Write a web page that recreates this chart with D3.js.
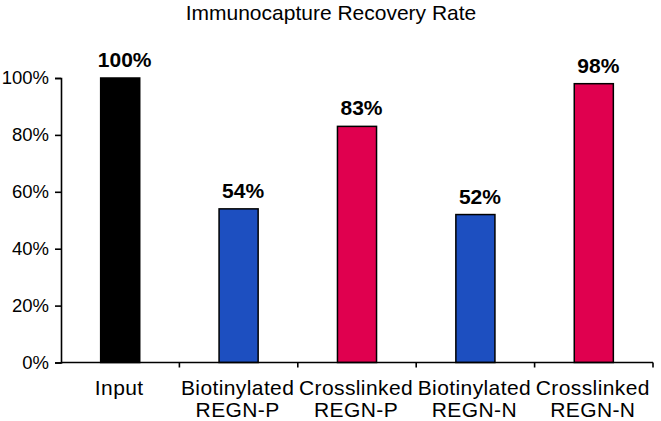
<!DOCTYPE html>
<html>
<head>
<meta charset="utf-8">
<script src="https://cdn.jsdelivr.net/npm/d3@7"></script>
<style>
  body { margin: 0; background: #fff; }
  svg { font-family: "Liberation Sans", Arial, sans-serif; }
</style>
</head>
<body>
<svg id="chart" width="661" height="421"></svg>
<script>
// Chart data

const categories = ['Input', 'Biotinylated REGN-P', 'Crosslinked REGN-P', 'Biotinylated REGN-N', 'Crosslinked REGN-N'];
const labelLines = [['Input'], ['Biotinylated', 'REGN-P'], ['Crosslinked', 'REGN-P'], ['Biotinylated', 'REGN-N'], ['Crosslinked', 'REGN-N']];
const recovery = [100, 54, 83, 52, 98];
const barColors = ['#000000', '#1d4fc0', '#e0004f', '#1d4fc0', '#e0004f'];
const yTicks = [0, 20, 40, 60, 80, 100];

const svg = d3.select('#chart');

const x = d3.scaleBand()
    .domain(categories)
    .range([61, 653])
    .paddingInner(0.67)
    .paddingOuter(0.335);

const y = d3.scaleLinear()
    .domain([0, 100])
    .range([362.5, 78]);

// Title
svg.append('text')
    .attr('x', 331)
    .attr('y', 20)
    .attr('text-anchor', 'middle')
    .attr('font-size', 21)
    .text('Immunocapture Recovery Rate');

// Bars
svg.selectAll('rect.bar')
    .data(recovery)
    .join('rect')
    .attr('class', 'bar')
    .attr('x', (d, i) => x(categories[i]))
    .attr('width', x.bandwidth())
    .attr('y', d => y(d))
    .attr('height', d => y(0) - y(d))
    .attr('fill', (d, i) => barColors[i])
    .attr('stroke', '#000')
    .attr('stroke-width', 1.5);

// Value labels (sit a little right of the bar centre, as in the original)
svg.selectAll('text.value')
    .data(recovery)
    .join('text')
    .attr('class', 'value')
    .attr('x', (d, i) => x(categories[i]) + x.bandwidth() / 2 + 4.5)
    .attr('y', d => y(d) - 11)
    .attr('text-anchor', 'middle')
    .attr('font-size', 21)
    .attr('font-weight', 'bold')
    .text(d => d + '%');

// Y axis
const yAxis = svg.append('g')
    .attr('transform', 'translate(61,0)')
    .call(d3.axisLeft(y).tickValues(yTicks).tickFormat(d => d + '%').tickSize(6).tickPadding(6));
yAxis.select('.domain').attr('stroke', '#000').attr('stroke-width', 1.6);
yAxis.selectAll('.tick line').attr('stroke', '#000').attr('stroke-width', 1.6);
yAxis.selectAll('.tick text')
    .attr('font-family', '"Liberation Sans", Arial, sans-serif')
    .attr('font-size', 18.5)
    .attr('fill', '#000');

// X axis baseline with ticks at band boundaries
const step = x.step();
const bounds = [0, 1, 2, 3, 4, 5].map(i => x.range()[0] + i * step);
svg.append('line')
    .attr('x1', x.range()[0])
    .attr('x2', x.range()[1])
    .attr('y1', y(0))
    .attr('y2', y(0))
    .attr('stroke', '#000')
    .attr('stroke-width', 1.6);
svg.selectAll('line.xtick')
    .data(bounds.slice(1))
    .join('line')
    .attr('class', 'xtick')
    .attr('x1', d => d)
    .attr('x2', d => d)
    .attr('y1', y(0))
    .attr('y2', y(0) + 5)
    .attr('stroke', '#000')
    .attr('stroke-width', 1.6);

// Category labels
const catLabels = svg.selectAll('text.cat')
    .data(labelLines)
    .join('text')
    .attr('class', 'cat')
    .attr('text-anchor', 'middle')
    .attr('font-size', 21)
    .attr('letter-spacing', 0.4)
    .attr('transform', (d, i) => `translate(${x(categories[i]) + x.bandwidth() / 2 - 1},395)`);

catLabels.selectAll('tspan')
    .data(d => d)
    .join('tspan')
    .attr('x', 0)
    .attr('dy', (d, i) => i === 0 ? 0 : 21.5)
    .text(d => d);
</script>
</body>
</html>
